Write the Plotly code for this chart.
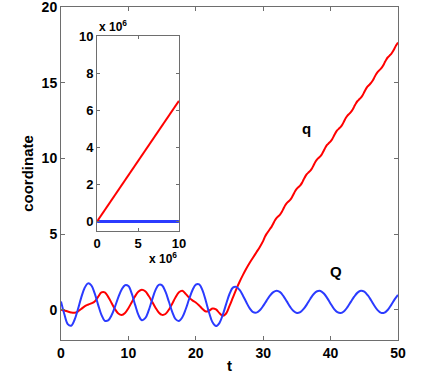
"""Two coupled coordinates q, Q versus t, with a long-time inset."""
import numpy as np
import plotly.graph_objects as go

# sampling grids (t)
t_Q = np.linspace(0, 50, 101)
t_q = np.concatenate([np.linspace(0, 30, 61), np.linspace(30.25, 50, 80)])

Q = [0.55, -0.30, -0.95, -1.06, -0.68, 0.01, 0.80, 1.44, 1.74, 1.61,
     1.08, 0.34, -0.34, -0.73, -0.71, -0.37, 0.19, 0.82, 1.34, 1.62,
     1.56, 1.06, 0.32, -0.36, -0.69, -0.56, -0.06, 0.63, 1.28, 1.64,
     1.61, 1.19, 0.54, -0.14, -0.62, -0.74, -0.50, 0.03, 0.69, 1.29,
     1.66, 1.68, 1.28, 0.56, -0.23, -0.85, -1.08, -0.88, -0.34, 0.37,
     1.04, 1.46, 1.51, 1.31, 0.93, 0.49, 0.09, -0.16, -0.19, -0.04,
     0.25, 0.60, 0.93, 1.16, 1.25, 1.16, 0.90, 0.55, 0.19, -0.09,
     -0.22, -0.16, 0.05, 0.37, 0.73, 1.04, 1.22, 1.24, 1.07, 0.77,
     0.40, 0.06, -0.16, -0.22, -0.10, 0.17, 0.52, 0.86, 1.13, 1.25,
     1.19, 0.96, 0.63, 0.26, -0.04, -0.21, -0.19, 0.00, 0.32, 0.68,
     0.98]

q = [0.00, -0.05, -0.12, -0.18, -0.20, -0.12, 0.05, 0.22, 0.33, 0.42,
     0.55, 0.85, 1.15, 1.15, 0.85, 0.45, 0.05, -0.25, -0.35, -0.22,
     0.10, 0.50, 0.90, 1.20, 1.32, 1.22, 0.92, 0.55, 0.15, -0.18,
     -0.34, -0.28, 0.00, 0.40, 0.82, 1.15, 1.25, 1.05, 0.80, 0.62,
     0.48, 0.28, 0.05, -0.12, -0.05, 0.08, 0.02, -0.22, -0.40, -0.25,
     0.25, 0.80, 1.35, 1.85, 2.30, 2.72, 3.10, 3.45, 3.80, 4.15,
     4.55,
     4.81, 5.01, 5.17, 5.33, 5.49, 5.70, 5.91, 6.07, 6.18, 6.29,
     6.46, 6.67, 6.88, 7.04, 7.15, 7.26, 7.42, 7.63, 7.84, 8.00,
     8.11, 8.22, 8.38, 8.60, 8.81, 8.97, 9.08, 9.19, 9.35, 9.56,
     9.77, 9.93, 10.04, 10.15, 10.31, 10.52, 10.73, 10.90, 11.01, 11.12,
     11.28, 11.49, 11.70, 11.86, 11.97, 12.08, 12.24, 12.45, 12.66, 12.82,
     12.94, 13.05, 13.21, 13.42, 13.63, 13.79, 13.90, 14.01, 14.17, 14.38,
     14.59, 14.75, 14.86, 14.98, 15.14, 15.35, 15.56, 15.72, 15.83, 15.94,
     16.10, 16.31, 16.52, 16.68, 16.79, 16.90, 17.07, 17.28, 17.49, 17.65]

# inset: long run
t_long = [0, 1.0e7]
q_long = [0, 6.5e6]
Q_long = [0, 0]

main_xticks = [0, 10, 20, 30, 40, 50]
main_yticks = [0, 5, 10, 15, 20]
inset_xticks = [0, 5e6, 1e7]
inset_yticks = [0, 2e6, 4e6, 6e6, 8e6, 1e7]

RED = "#FF0000"
BLUE = "#2B3BFF"
AXIS = "#6E6E6E"
FONT = "Liberation Sans, Arial, sans-serif"


def bold_ticks(vals, scale=1):
    return [f"<b>{v / scale:g}</b>" for v in vals]


fig = go.Figure()
fig.add_trace(go.Scatter(x=t_q, y=q, mode="lines", line=dict(color=RED, width=2, shape="spline")))
fig.add_trace(go.Scatter(x=t_Q, y=Q, mode="lines", line=dict(color=BLUE, width=2, shape="spline")))
fig.add_trace(go.Scatter(x=t_long, y=Q_long, mode="lines", line=dict(color=BLUE, width=3),
                         xaxis="x2", yaxis="y2"))
fig.add_trace(go.Scatter(x=t_long, y=q_long, mode="lines", line=dict(color=RED, width=2),
                         xaxis="x2", yaxis="y2"))

axis_common = dict(showline=True, linecolor=AXIS, linewidth=1, mirror="ticks",
                   ticks="inside", tickcolor=AXIS, showgrid=False, zeroline=False,
                   automargin=False, ticklabeloverflow="allow")
main_font = dict(family=FONT, size=14, color="black")
inset_font = dict(family=FONT, size=13, color="black")

fig.update_layout(
    width=436, height=382, showlegend=False,
    margin=dict(l=61, r=38, t=7, b=42),
    plot_bgcolor="#FFFFFF", paper_bgcolor="#FFFFFF",
    font=dict(family=FONT, color="black"),
    xaxis=dict(range=[0, 50], tickvals=main_xticks, ticktext=bold_ticks(main_xticks),
               tickfont=main_font, ticklen=4,
               title=dict(text="<b>t</b>", font=dict(family=FONT, size=15), standoff=0),
               **axis_common),
    yaxis=dict(range=[-2, 20], tickvals=main_yticks, ticktext=bold_ticks(main_yticks),
               tickfont=main_font, ticklen=4,
               title=dict(text="<b>coordinate</b>", font=dict(family=FONT, size=15), standoff=4),
               **axis_common),
    xaxis2=dict(domain=[0.107, 0.350], anchor="y2", range=[0, 1.0e7],
                tickvals=inset_xticks, ticktext=bold_ticks(inset_xticks, 1e6),
                tickfont=inset_font, ticklen=3, **axis_common),
    yaxis2=dict(domain=[0.326, 0.913], anchor="x2", range=[-0.54e6, 1.0e7],
                tickvals=inset_yticks, ticktext=bold_ticks(inset_yticks, 1e6),
                tickfont=inset_font, ticklen=3, **axis_common),
)

# curve labels
fig.add_annotation(x=36.4, y=12.0, text="<b>q</b>", showarrow=False,
                   font=dict(family=FONT, size=15, color="black"))
fig.add_annotation(x=40.8, y=2.5, text="<b>Q</b>", showarrow=False,
                   font=dict(family=FONT, size=15, color="black"))

# exponent labels of the inset axes
fig.add_annotation(x=0.107, y=0.913, xref="paper", yref="paper", xanchor="left", yanchor="bottom",
                   text="<b>x 10<sup>6</sup></b>", showarrow=False,
                   font=dict(family=FONT, size=12, color="black"))
fig.add_annotation(x=0.350, y=0.245, xref="paper", yref="paper", xanchor="right", yanchor="middle",
                   text="<b>x 10<sup>6</sup></b>", showarrow=False,
                   font=dict(family=FONT, size=12, color="black"))

# the page body has a default 8px margin; drop it so the figure sits at the window origin
fig.write_html("out.html", config={"displayModeBar": False},
               post_script="document.body.style.margin='0';")
